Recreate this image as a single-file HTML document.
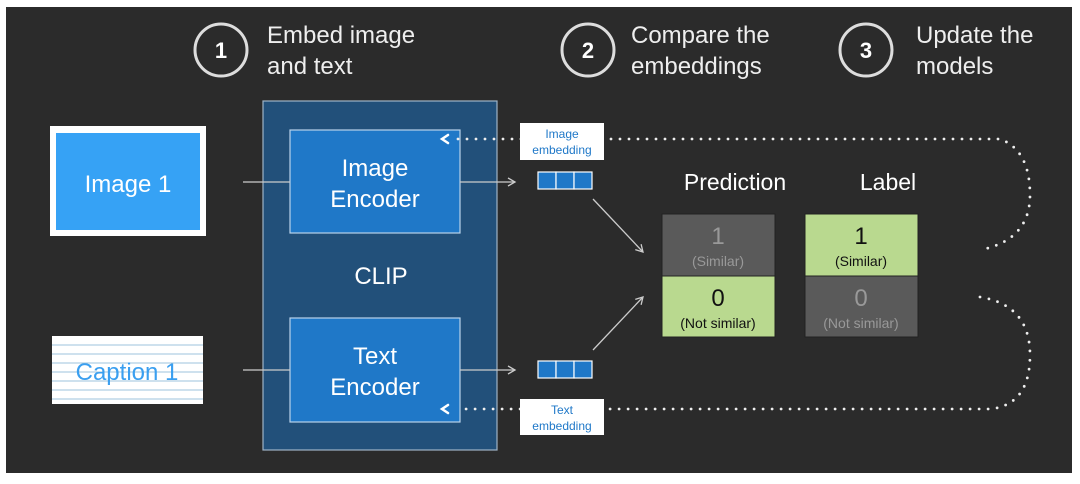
<!DOCTYPE html>
<html><head><style>
body{margin:0;width:1080px;height:479px;background:#fff;overflow:hidden}
svg, svg text{font-family:"Liberation Sans",Arial,sans-serif}
</style></head><body>
<svg width="1080" height="479" xmlns="http://www.w3.org/2000/svg">
<defs>
<marker id="a" markerWidth="10" markerHeight="10" refX="8" refY="5" orient="auto" markerUnits="userSpaceOnUse"><path d="M1,1 L8,5 L1,9" fill="none" stroke="#ccc" stroke-width="1.3"/></marker>
</defs>
<rect x="6" y="7" width="1066" height="466" fill="#2b2b2b"/>
<g fill="none" stroke="#ddd" stroke-width="3">
<circle cx="221" cy="50" r="26"/><circle cx="588" cy="50" r="26"/><circle cx="866" cy="50" r="26"/>
</g>
<g fill="#fff" font-size="22" font-weight="bold" text-anchor="middle">
<text x="221" y="58">1</text><text x="588" y="58">2</text><text x="866" y="58">3</text>
</g>
<g fill="#eee" font-size="24">
<text x="267" y="43">Embed image</text><text x="267" y="74">and text</text>
<text x="631" y="43">Compare the</text><text x="631" y="74">embeddings</text>
<text x="916" y="43">Update the</text><text x="916" y="74">models</text>
</g>
<rect x="50" y="126" width="156" height="110" fill="#fff"/>
<rect x="56" y="133" width="144" height="97" fill="#36a2f5"/>
<text x="128" y="192" fill="#fff" font-size="24" text-anchor="middle">Image 1</text>
<rect x="52" y="336" width="151" height="68" fill="#fff"/>
<g stroke="#9cc3dc" stroke-width="1">
<line x1="52" y1="345" x2="203" y2="345"/><line x1="52" y1="354" x2="203" y2="354"/><line x1="52" y1="363" x2="203" y2="363"/><line x1="52" y1="372" x2="203" y2="372"/><line x1="52" y1="381" x2="203" y2="381"/><line x1="52" y1="390" x2="203" y2="390"/><line x1="52" y1="399" x2="203" y2="399"/>
</g>
<text x="127" y="380" fill="#3a9ff0" font-size="24" text-anchor="middle">Caption 1</text>
<rect x="263" y="101" width="234" height="349" fill="#22507a" stroke="#9fb3c6" stroke-width="1.2"/>
<rect x="290" y="130" width="170" height="103" fill="#1f78c8" stroke="#b9d2ea" stroke-width="1.2"/>
<rect x="290" y="318" width="170" height="104" fill="#1f78c8" stroke="#b9d2ea" stroke-width="1.2"/>
<g fill="#fff" font-size="24" text-anchor="middle">
<text x="375" y="176">Image</text><text x="375" y="207">Encoder</text>
<text x="381" y="284">CLIP</text>
<text x="375" y="364">Text</text><text x="375" y="395">Encoder</text>
</g>
<g stroke="#ccc" stroke-width="1.3" fill="none">
<line x1="243" y1="182" x2="290" y2="182"/>
<line x1="243" y1="370" x2="290" y2="370"/>
<line x1="460" y1="182" x2="515" y2="182" marker-end="url(#a)"/>
<line x1="460" y1="370" x2="515" y2="370" marker-end="url(#a)"/>
<line x1="593" y1="199" x2="643" y2="252" marker-end="url(#a)"/>
<line x1="593" y1="350" x2="643" y2="297" marker-end="url(#a)"/>
</g>
<g fill="#1f78c8" stroke="#fff" stroke-width="1.2">
<rect x="538" y="172" width="18" height="17"/><rect x="556" y="172" width="18" height="17"/><rect x="574" y="172" width="18" height="17"/>
<rect x="538" y="361" width="18" height="17"/><rect x="556" y="361" width="18" height="17"/><rect x="574" y="361" width="18" height="17"/>
</g>
<g fill="none" stroke="#eee" stroke-width="2.8" stroke-linecap="round" stroke-dasharray="0 9">
<path d="M458 139 L1000 139 Q1030 150 1030 195 Q1030 240 980 250"/>
<path d="M980 297 Q1030 305 1030 355 Q1030 405 990 409 L458 409"/>
</g>
<g fill="none" stroke="#fff" stroke-width="2.5" stroke-linecap="round">
<path d="M448 135 L442 139 L448 143"/><path d="M448 405 L442 409 L448 413"/>
</g>
<rect x="520" y="123" width="84" height="37" fill="#fff"/>
<rect x="520" y="399" width="84" height="36" fill="#fff"/>
<g fill="#1f78c8" font-size="12" text-anchor="middle">
<text x="562" y="138">Image</text><text x="562" y="154">embedding</text>
<text x="562" y="414">Text</text><text x="562" y="430">embedding</text>
</g>
<text x="735" y="190" fill="#fff" font-size="23" text-anchor="middle">Prediction</text>
<text x="888" y="190" fill="#fff" font-size="23" text-anchor="middle">Label</text>
<rect x="662" y="214" width="113" height="62" fill="#5a5a5a" stroke="#222"/>
<rect x="662" y="276" width="113" height="61" fill="#b9d98f" stroke="#222"/>
<rect x="805" y="214" width="113" height="62" fill="#b9d98f" stroke="#222"/>
<rect x="805" y="276" width="113" height="61" fill="#5a5a5a" stroke="#222"/>
<g text-anchor="middle">
<text x="718" y="244" fill="#999" font-size="24">1</text>
<text x="718" y="266" fill="#999" font-size="14">(Similar)</text>
<text x="718" y="306" fill="#111" font-size="24">0</text>
<text x="718" y="328" fill="#111" font-size="14">(Not similar)</text>
<text x="861" y="244" fill="#111" font-size="24">1</text>
<text x="861" y="266" fill="#111" font-size="14">(Similar)</text>
<text x="861" y="306" fill="#999" font-size="24">0</text>
<text x="861" y="328" fill="#999" font-size="14">(Not similar)</text>
</g>
</svg>
</body></html>
